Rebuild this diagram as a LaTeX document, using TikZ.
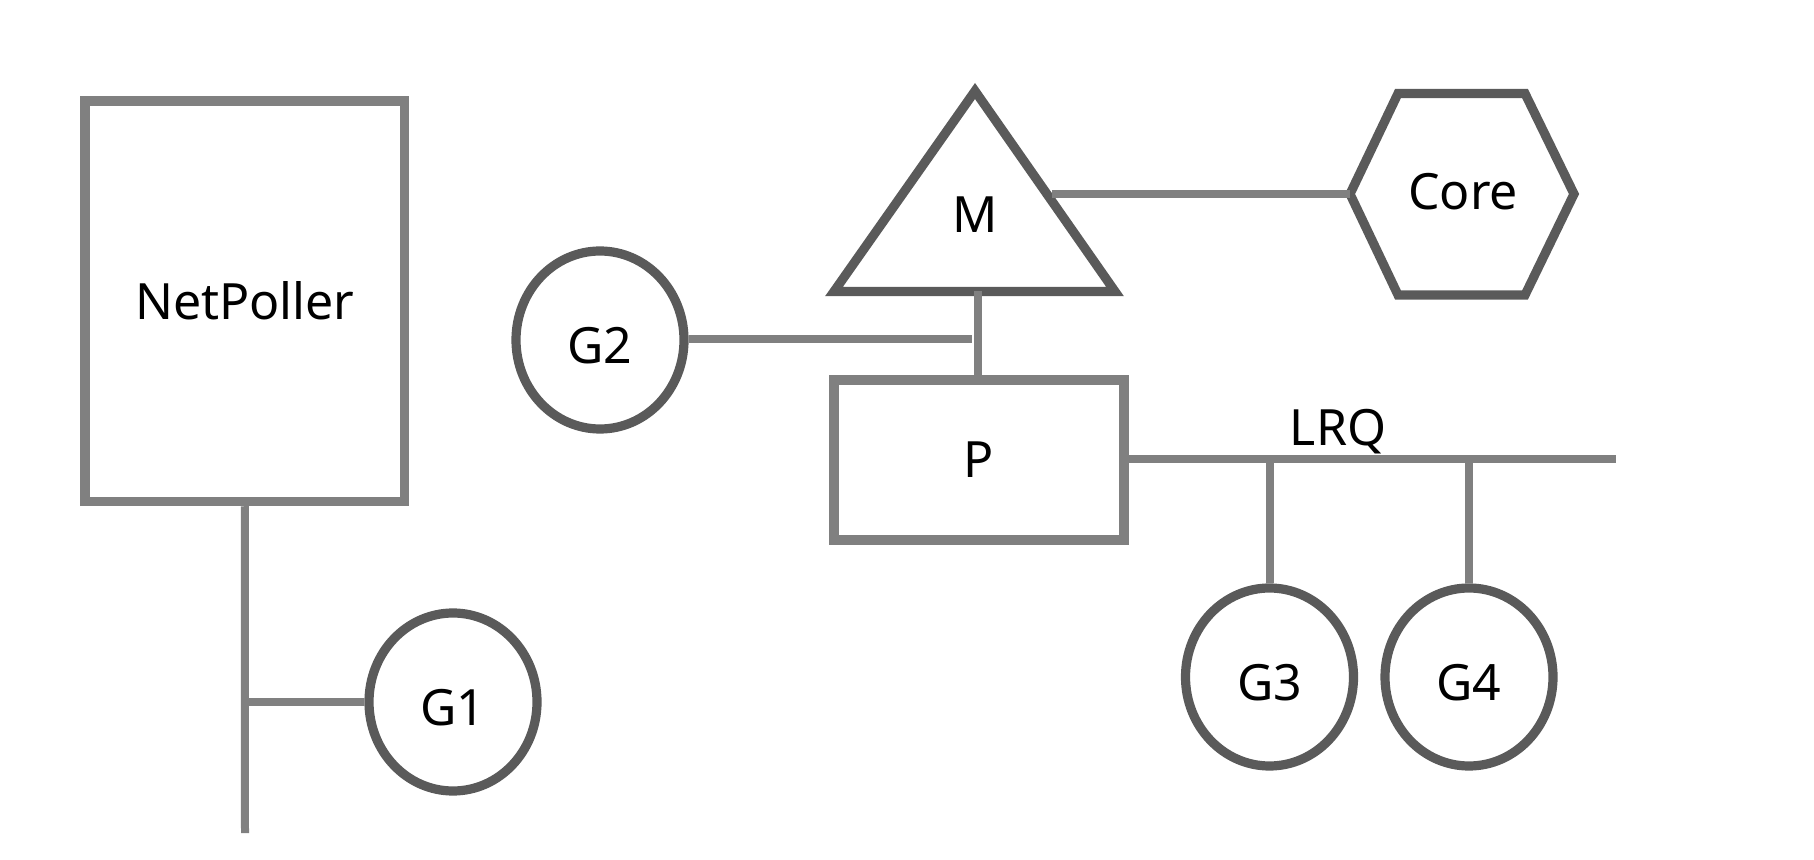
\documentclass[tikz,border=0pt]{standalone}
\usepackage{fontspec}
\setmainfont{Noto Sans}
\usetikzlibrary{shapes.geometric}
\definecolor{lgray}{HTML}{808080}
\definecolor{dgray}{HTML}{5A5A5A}
\begin{document}
\begin{tikzpicture}[x=0.5pt,y=-0.5pt,
  txt/.style={font=\fontsize{25}{30}\selectfont},
  box/.style={txt, draw=lgray, line width=4.75pt, rectangle, inner sep=0pt},
  gcirc/.style={txt, draw=dgray, line width=4.6pt, ellipse, inner sep=0pt,
    minimum width=84pt, minimum height=89pt, text height=23.8pt, text depth=0pt},
  shapeline/.style={draw=dgray, line width=4.6pt, line join=miter},
  conn/.style={draw=lgray, line width=4pt},
  lbl/.style={txt, inner sep=0pt}
]
\useasboundingbox (0,0) rectangle (1814,860);

% NetPoller box and G1
\node[box, minimum width=159.75pt, minimum height=200.25pt] (np) at (244.75,301.25) {NetPoller};
\coordinate (npend) at (245,833);
\node[gcirc] (G1) at (453,702) {G1};
\draw[conn] (np.south) -- (npend);
\draw[conn] (G1.west -| np.south) -- (G1.west);

% M triangle
\draw[shapeline] (834,291.5) -- (975,91) -- (1115,291.5) -- cycle;
\node[lbl] (M) at (975,214.5) {M};
\coordinate (Mb) at (978,291.5);
\coordinate (Mr) at (1052,194.5);

% Core hexagon
\draw[shapeline] (1350,194) -- (1398,93.5) -- (1525,93.5) -- (1574,194) -- (1525,295) -- (1398,295) -- cycle;
\node[lbl] (core) at (1463,192) {Core};
\coordinate (Cw) at (1350,194.5);
\draw[conn] (Mr) -- (Cw);

% P box
\node[box, minimum width=145pt, minimum height=80pt] (P) at (979,460) {P};
\draw[conn] (Mb) -- (Mb |- P.north);

% G2
\node[gcirc] (G2) at (600,340) {G2};
\coordinate (G2end) at (972,339);
\draw[conn] (G2.east |- G2end) -- (G2end);

% LRQ
\coordinate (lrqend) at (1616,459);
\draw[conn] (P.east |- lrqend) -- (lrqend);
\node[lbl, anchor=base] (lrq) at (1338,446) {LRQ};

% G3, G4
\node[gcirc] (G3) at (1269.5,677) {G3};
\node[gcirc] (G4) at (1469,677) {G4};
\draw[conn] (G3.north) -- (G3.north |- lrqend);
\draw[conn] (G4.north) -- (G4.north |- lrqend);
\end{tikzpicture}
\end{document}
